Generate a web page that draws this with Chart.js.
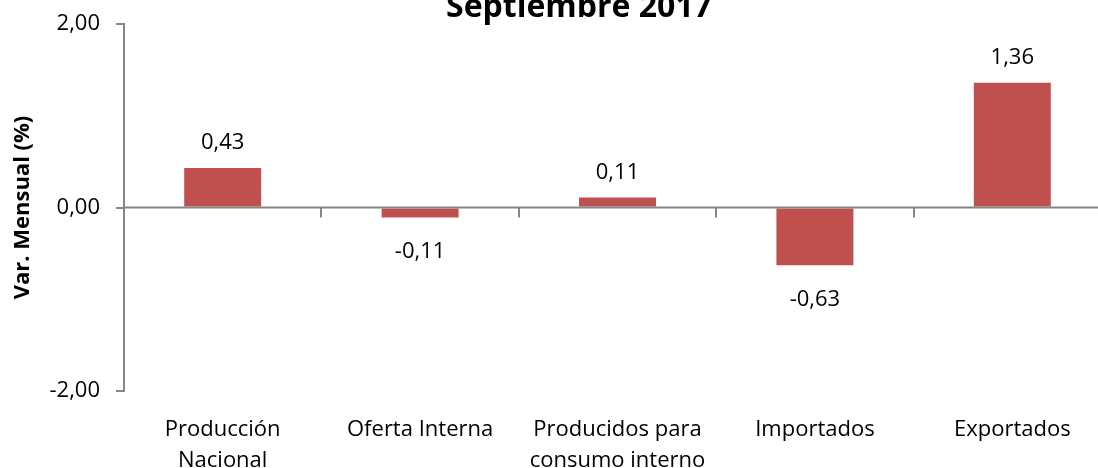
<!DOCTYPE html>
<html>
<head>
<meta charset="utf-8">
<title>Septiembre 2017</title>
<script src="https://cdn.jsdelivr.net/npm/chart.js@4.4.1/dist/chart.umd.min.js"></script>
<style>
  body { margin: 0; background: #fff; overflow: hidden; }
  .chart-wrap { position: relative; width: 1098px; height: 468px; overflow: hidden; }
  #myChart { position: absolute; left: 0; top: -9px; }
</style>
</head>
<body>
<div class="chart-wrap">
  <canvas id="myChart" width="1158" height="477"></canvas>
</div>
<script>
// data
const categories = [
  ['Producción', 'Nacional'],
  'Oferta Interna',
  ['Producidos para', 'consumo interno'],
  'Importados',
  'Exportados'
];
const values = [0.43, -0.11, 0.11, -0.63, 1.36];
const yTicks = [-2, 0, 2];
const chartTitle = 'Septiembre 2017';

const barColor = '#C0504D';
const axisGrey = '#868686';
const font = "'Open Sans', 'DejaVu Sans', sans-serif";

function fmt(v) {
  return v.toFixed(2).replace('.', ',');
}

// title (sits a bit right of the plot centre, top cut off like the source)
const topTitle = {
  id: 'topTitle',
  afterDraw(chart) {
    const ctx = chart.ctx;
    ctx.save();
    ctx.fillStyle = '#000';
    ctx.font = 'bold 32px ' + font;
    ctx.textAlign = 'center';
    ctx.textBaseline = 'alphabetic';
    ctx.fillText(chartTitle, chart.width / 2, 26);
    ctx.restore();
  }
};

// zero line, category tick marks and value labels
const zeroAxis = {
  id: 'zeroAxis',
  afterDatasetsDraw(chart) {
    const ctx = chart.ctx;
    const area = chart.chartArea;
    const x = chart.scales.x;
    const y = chart.scales.y;
    const y0 = y.getPixelForValue(0);
    const half = (x.getPixelForValue(1) - x.getPixelForValue(0)) / 2;

    ctx.save();
    ctx.strokeStyle = axisGrey;
    ctx.lineWidth = 2;
    ctx.beginPath();
    ctx.moveTo(area.left, y0);
    ctx.lineTo(area.right, y0);
    ctx.stroke();

    ctx.beginPath();
    for (let i = 0; i < categories.length; i++) {
      const px = Math.round(x.getPixelForValue(i) + half);
      ctx.moveTo(px, y0);
      ctx.lineTo(px, y0 + 10);
    }
    ctx.stroke();

    ctx.fillStyle = '#000';
    ctx.font = '22px ' + font;
    ctx.textAlign = 'center';
    ctx.textBaseline = 'middle';
    chart.getDatasetMeta(0).data.forEach((bar, i) => {
      const v = values[i];
      const ty = v >= 0 ? bar.y - 25 : bar.y + 34;
      ctx.fillText(fmt(v), bar.x, ty);
    });
    ctx.restore();
  }
};

const ctx = document.getElementById('myChart').getContext('2d');

const myChart = new Chart(ctx, {
  type: 'bar',
  data: {
    labels: categories,
    datasets: [{
      label: 'Var. Mensual (%)',
      data: values,
      backgroundColor: barColor,
      borderWidth: 0,
      barPercentage: 0.39,
      categoryPercentage: 1
    }]
  },
  plugins: [zeroAxis, topTitle],
  options: {
    responsive: false,
    animation: false,
    devicePixelRatio: 1,
    layout: { padding: { left: 0, right: 47, top: 33, bottom: 0 } },
    plugins: {
      legend: { display: false },
      tooltip: { enabled: false },
      title: { display: false }
    },
    scales: {
      x: {
        grid: { display: false, drawTicks: false },
        border: { display: false },
        ticks: {
          color: '#000',
          font: { family: font, size: 22, lineHeight: 1.42 },
          padding: 23,
          maxRotation: 0,
          autoSkip: false
        },
        afterFit: (scale) => { scale.height = 77; }
      },
      y: {
        min: -2,
        max: 2,
        afterBuildTicks: (scale) => { scale.ticks = yTicks.map(v => ({ value: v })); },
        grid: {
          display: true,
          drawOnChartArea: false,
          drawTicks: true,
          tickLength: 8,
          color: axisGrey,
          lineWidth: 2
        },
        border: { display: true, color: axisGrey, width: 2 },
        ticks: {
          color: '#000',
          font: { family: font, size: 22 },
          padding: 16,
          callback: (v) => fmt(v)
        },
        title: {
          display: true,
          text: 'Var. Mensual (%)',
          color: '#000',
          font: { family: font, size: 22, weight: 'bold', lineHeight: 1.2 },
          padding: { top: 10, bottom: 0 }
        },
        afterFit: (scale) => { scale.width = 124; }
      }
    }
  }
});
</script>
</body>
</html>
